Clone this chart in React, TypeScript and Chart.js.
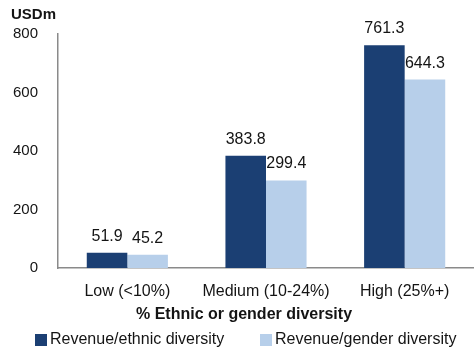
import React, { useEffect, useRef } from "react";
import { Chart, registerables } from "chart.js";

Chart.register(...registerables);

const categories = ["Low (<10%)", "Medium (10-24%)", "High (25%+)"];
const ethnicValues = [51.9, 383.8, 761.3];
const genderValues = [45.2, 299.4, 644.3];
const seriesLabels = ["Revenue/ethnic diversity", "Revenue/gender diversity"];
const yTicks = [0, 200, 400, 600, 800];
const unitLabel = "USDm";
const xAxisTitle = "% Ethnic or gender diversity";

const DARK = "#1B3F73";
const LIGHT = "#B7CFEA";
const TEXT = "#141414";
const FONT = "'Liberation Sans', Arial, sans-serif";

const overlayPlugin = {
  id: "overlay",
  afterDatasetsDraw(chart: any) {
    const ctx = chart.ctx;
    ctx.save();
    ctx.fillStyle = TEXT;
    ctx.textAlign = "center";
    ctx.textBaseline = "alphabetic";
    ctx.font = `16px ${FONT}`;
    chart.data.datasets.forEach((ds: any, di: number) => {
      const meta = chart.getDatasetMeta(di);
      meta.data.forEach((bar: any, i: number) => {
        const v = ds.data[i];
        ctx.fillText(v.toFixed(1), bar.x, bar.y - 12);
      });
    });
    ctx.restore();
  },
  afterDraw(chart: any) {
    const ctx = chart.ctx;
    ctx.save();
    ctx.fillStyle = TEXT;
    ctx.textBaseline = "middle";
    ctx.textAlign = "left";
    ctx.font = `bold 15px ${FONT}`;
    ctx.fillText(unitLabel, 11, 15);
    ctx.textAlign = "center";
    ctx.font = `bold 16px ${FONT}`;
    ctx.fillText(xAxisTitle, 244, 315);
    ctx.font = `16px ${FONT}`;
    ctx.textAlign = "left";
    const legendX = [35, 260];
    chart.data.datasets.forEach((ds: any, di: number) => {
      const x = legendX[di];
      ctx.fillStyle = ds.backgroundColor;
      ctx.fillRect(x, 334, 12, 12);
      ctx.fillStyle = TEXT;
      ctx.fillText(ds.label, x + 15, 340);
    });
    ctx.restore();
  },
};

export default function App() {
  const ref = useRef<HTMLCanvasElement>(null);
  useEffect(() => {
    if (!ref.current) return;
    const chart = new Chart(ref.current, {
      type: "bar",
      data: {
        labels: categories,
        datasets: [
          {
            label: seriesLabels[0],
            data: ethnicValues,
            backgroundColor: DARK,
            categoryPercentage: 0.585,
            barPercentage: 1.0,
          },
          {
            label: seriesLabels[1],
            data: genderValues,
            backgroundColor: LIGHT,
            categoryPercentage: 0.585,
            barPercentage: 1.0,
          },
        ],
      },
      options: {
        responsive: false,
        animation: false,
        devicePixelRatio: 1,
        layout: { padding: { top: 34, left: 0, right: 0, bottom: 0 } },
        plugins: {
          legend: { display: false },
          tooltip: { enabled: false },
          title: { display: false },
        },
        scales: {
          x: {
            grid: { display: false, drawTicks: false },
            border: { display: true, color: "#8a8a8a", width: 1.5 },
            ticks: {
              color: TEXT,
              font: { family: FONT, size: 16 },
              padding: 14,
              maxRotation: 0,
            },
            afterFit: (scale: any) => {
              scale.height = 83;
            },
          },
          y: {
            min: 0,
            max: 800,
            afterBuildTicks: (scale: any) => {
              scale.ticks = yTicks.map((v) => ({ value: v }));
            },
            grid: { display: false, drawTicks: false },
            border: { display: true, color: "#8a8a8a", width: 1.5 },
            ticks: {
              color: TEXT,
              font: { family: FONT, size: 15 },
              padding: 20,
            },
            afterFit: (scale: any) => {
              scale.width = 58;
            },
          },
        },
      },
      plugins: [overlayPlugin],
    });
    return () => chart.destroy();
  }, []);
  return (
    <div style={{ position: "fixed", left: 0, top: 0, width: 474, height: 351, background: "#fff" }}>
      <canvas ref={ref} width={474} height={351} />
    </div>
  );
}
